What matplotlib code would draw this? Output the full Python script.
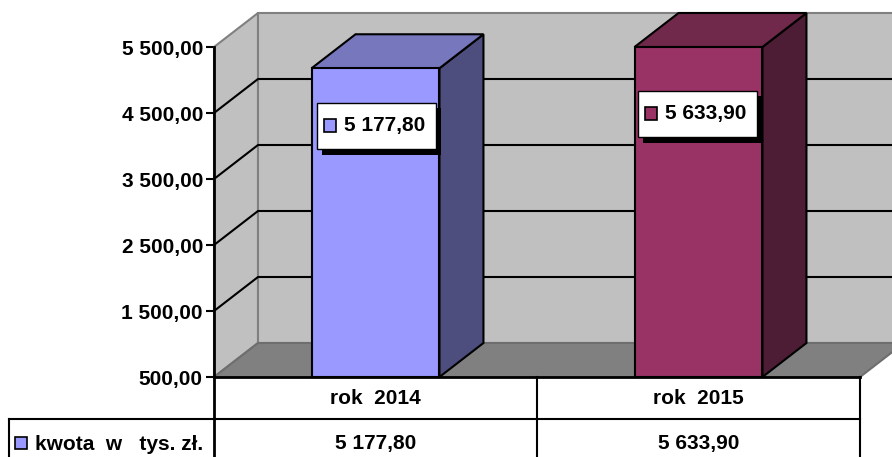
import matplotlib
matplotlib.use('Agg')
import matplotlib.pyplot as plt
from matplotlib.patches import Polygon, Rectangle

plt.rcParams['font.family'] = ['Liberation Sans', 'DejaVu Sans']
plt.rcParams['font.weight'] = 'bold'

lata = ['rok  2014', 'rok  2015']
kwoty = [5177.80, 5633.90]
kwoty_tekst = ['5 177,80', '5 633,90']
ticki = [500, 1500, 2500, 3500, 4500, 5500]
ticki_tekst = ['500,00', '1 500,00', '2 500,00', '3 500,00', '4 500,00', '5 500,00']
seria = 'kwota  w   tys. zł.'

kolory_przod = ['#9999FF', '#993366']
kolory_gora = ['#7777BD', '#70294B']
kolory_bok = ['#4D4D7E', '#4D1C35']

W, H = 892, 457
FS = 15

fig = plt.figure(figsize=(W / 100, H / 100), dpi=100)

# os glowna: x w kategoriach, y w wartosciach
ax = fig.add_axes([214 / W, 1 - 377 / H, 646 / W, 330 / H])
ymin, ymax = 500, 5500
ax.set_xlim(0, 2)
ax.set_ylim(ymin, ymax)
ax.patch.set_visible(False)

# glebokosc wykresu 3d w jednostkach danych
dx = 44 / 323
dy = 34 / 0.066
szer = 0.396


def wielokat(punkty, kolor, ec, lw=1.5, z=2):
    p = Polygon(punkty, closed=True, fc=kolor, ec=ec, lw=lw, zorder=z, clip_on=False, joinstyle='miter')
    ax.add_patch(p)


# sciany
wielokat([(0, ymin), (0, ymax), (dx, ymax + dy), (dx, ymin + dy)], '#C0C0C0', '#808080')
wielokat([(dx, ymin + dy), (dx, ymax + dy), (2 + dx, ymax + dy), (2 + dx, ymin + dy)], '#C0C0C0', '#808080')
wielokat([(0, ymin), (dx, ymin + dy), (2 + dx, ymin + dy), (2, ymin)], '#808080', '#6E6E6E')

# linie siatki
for t in ticki[1:-1]:
    ax.plot([0, dx, 2 + dx], [t, t + dy, t + dy], color='black', lw=1.5, zorder=3, clip_on=False)

# slupki
for i, v in enumerate(kwoty):
    v = min(v, ymax)
    x0 = i + 0.5 - szer / 2
    x1 = i + 0.5 + szer / 2
    wielokat([(x1, ymin), (x1, v), (x1 + dx, v + dy), (x1 + dx, ymin + dy)], kolory_bok[i], 'black', z=4)
    wielokat([(x0, v), (x0 + dx, v + dy), (x1 + dx, v + dy), (x1, v)], kolory_gora[i], 'black', z=4)
    wielokat([(x0, ymin), (x0, v), (x1, v), (x1, ymin)], kolory_przod[i], 'black', z=5)

ax.set_xticks([])
ax.set_yticks(ticki)
ax.set_yticklabels(ticki_tekst, fontsize=FS, fontweight='bold')
ax.tick_params(axis='y', length=6, width=1.5, pad=2)
for s in ['top', 'right']:
    ax.spines[s].set_visible(False)
for s in ['left', 'bottom']:
    ax.spines[s].set_linewidth(2)
    ax.spines[s].set_zorder(6)

# warstwa w pikselach: etykiety i tabela
pix = fig.add_axes([0, 0, 1, 1])
pix.set_xlim(0, W)
pix.set_ylim(H, 0)
pix.axis('off')
pix.patch.set_visible(False)

etykiety_x = [317, 638]
etykiety_y = [103, 91]
for i, t in enumerate(kwoty_tekst):
    x, y = etykiety_x[i], etykiety_y[i]
    pix.add_patch(Rectangle((x + 5, y + 5), 119, 47, fc='black', ec='none', zorder=7))
    pix.add_patch(Rectangle((x, y), 119, 46, fc='white', ec='black', lw=1, zorder=8))
    pix.add_patch(Rectangle((x + 7, y + 16), 12, 13, fc=kolory_przod[i], ec='black', lw=1.2, zorder=9))
    pix.text(x + 27, y + 23, t, fontsize=FS, va='center', ha='left', zorder=9)

# tabela danych
pix.plot([214, 214], [377, 457], color='black', lw=2)
pix.plot([537, 537], [377, 457], color='black', lw=1.5)
pix.plot([860, 860], [377, 457], color='black', lw=1.5)
pix.plot([9, 860], [419, 419], color='black', lw=1.5)
pix.plot([9, 9], [419, 457], color='black', lw=1.5)
for i in range(2):
    srodek = 214 + 323 * i + 161.5
    pix.text(srodek, 398, lata[i], fontsize=FS, ha='center', va='center')
    pix.text(srodek, 444, kwoty_tekst[i], fontsize=FS, ha='center', va='center')
pix.add_patch(Rectangle((15, 437), 12, 12, fc=kolory_przod[0], ec='black', lw=1.2))
pix.text(35, 444, seria, fontsize=FS, ha='left', va='center')

fig.savefig('out.png', dpi=100)
